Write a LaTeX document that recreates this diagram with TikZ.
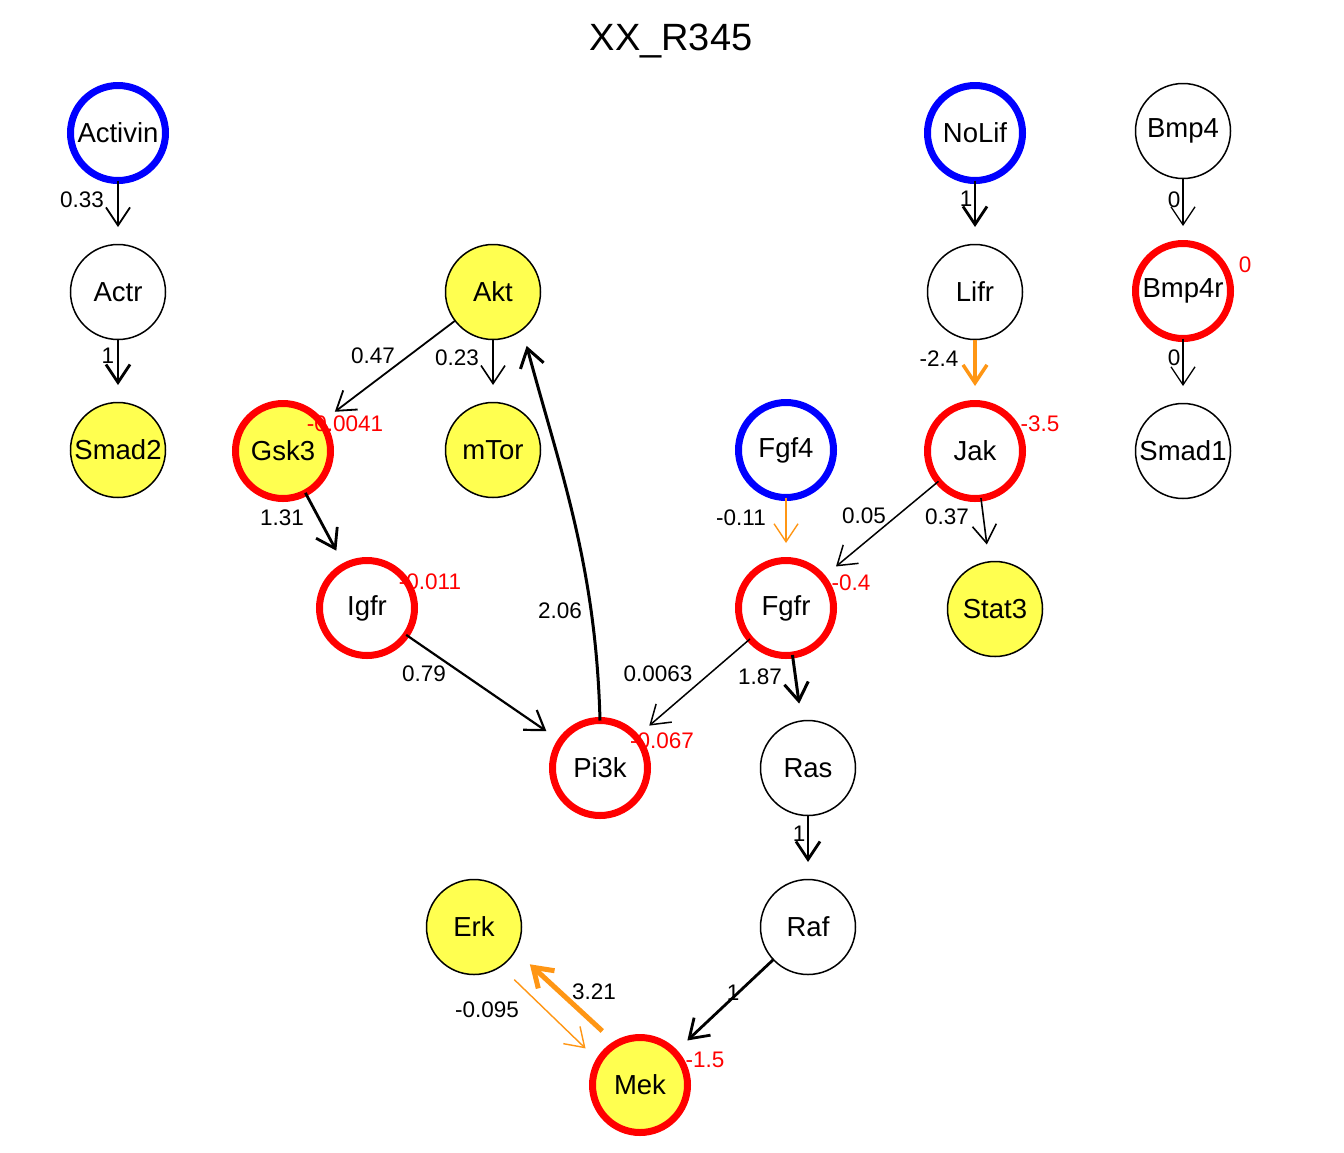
\documentclass[tikz,border=0pt]{standalone}
\usepackage{fontspec}
\setmainfont{Liberation Sans}
\usetikzlibrary{arrows.meta,calc}
\definecolor{nodeyellow}{RGB}{255,255,80}
\definecolor{edgeorange}{RGB}{255,150,20}
\definecolor{valred}{RGB}{255,0,0}
\definecolor{srcblue}{RGB}{0,0,255}
\begin{document}
\begin{tikzpicture}[x=1pt,y=-1pt,
  vnode/.style={circle,draw=black,line width=1.5pt,minimum size=95pt,inner sep=0pt,outer sep=0pt,font=\fontsize{27.5}{32}\selectfont},
  yel/.style={fill=nodeyellow},
  redring/.style={draw=valred,line width=7pt},
  bluering/.style={draw=srcblue,line width=7pt},
  edge/.style={draw=black,line width=1.6pt,-{Straight Barb[length=18pt,width=24pt]},shorten >=17.5pt},
  oedge/.style={edge,draw=edgeorange},
  elab/.style={font=\fontsize{22.5}{27}\selectfont,inner sep=0pt},
  vlab/.style={elab,text=valred},
  ttl/.style={font=\fontsize{38}{44}\selectfont,inner sep=0pt}
]
\useasboundingbox[fill=white] (0,0) rectangle (1344,1152);
\node[ttl] (title) at (671,41) {XX\_R345};
% nodes
\node[vnode,bluering] (activin) at (118,133) {Activin};
\node[vnode,bluering] (nolif) at (975,133) {NoLif};
\node[vnode] (bmp4) at (1183,131) {Bmp4};
\node[vnode] (actr) at (118,292) {Actr};
\node[vnode,yel] (akt) at (493,292) {Akt};
\node[vnode] (lifr) at (975,292) {Lifr};
\node[vnode,redring] (bmp4r) at (1183,291) {Bmp4r};
\node[vnode,yel] (smad2) at (118,450) {Smad2};
\node[vnode,yel,redring] (gsk3) at (283,451) {Gsk3};
\node[vnode,yel] (mtor) at (493,450) {mTor};
\node[vnode,bluering] (fgf4) at (786,450) {Fgf4};
\node[vnode,redring] (jak) at (975,451) {Jak};
\node[vnode] (smad1) at (1183,451) {Smad1};
\node[vnode,redring] (igfr) at (367,608) {Igfr};
\node[vnode,redring] (fgfr) at (786,608) {Fgfr};
\node[vnode,yel] (stat3) at (995,609) {Stat3};
\node[vnode,redring] (pi3k) at (600,768) {Pi3k};
\node[vnode] (ras) at (808,768) {Ras};
\node[vnode,yel] (erk) at (474,927) {Erk};
\node[vnode] (raf) at (808,927) {Raf};
\node[vnode,yel,redring] (mek) at (640,1085) {Mek};
% edges
\draw[edge,line width=1.8pt] (activin) -- (actr);
\draw[edge,line width=2.8pt] (actr) -- (smad2);
\draw[edge,line width=1.8pt] (akt) -- (gsk3);
\draw[edge,line width=1.6pt] (akt) -- (mtor);
\draw[edge,line width=2.8pt] (gsk3) -- (igfr);
\draw[edge,line width=2.2pt] (igfr) -- (pi3k);
\draw[edge,line width=3pt,shorten >=17pt] (pi3k.north) .. controls (596,565) and (560,470) .. (akt.-52);
\draw[oedge,line width=1.4pt] (fgf4) -- (fgfr);
\draw[edge,line width=1.5pt] (jak) -- (fgfr);
\draw[edge,line width=1.6pt] (jak) -- (stat3);
\draw[edge,line width=1.5pt] (fgfr) -- (pi3k);
\draw[edge,line width=3pt] (fgfr) -- (ras);
\draw[edge,line width=2.8pt] (ras) -- (raf);
\draw[edge,line width=2.8pt] (raf) -- (mek);
\draw[oedge,line width=5pt,shorten <=19pt,shorten >=20pt] (mek.120) -- (erk.-30);
\draw[oedge,line width=1.4pt,shorten <=19pt,shorten >=18.5pt] (erk.-56) -- (mek.150);
\draw[edge,line width=2.8pt] (nolif) -- (lifr);
\draw[oedge,line width=3.5pt] (lifr) -- (jak);
\draw[edge,line width=1.3pt] (bmp4) -- (bmp4r);
\draw[edge,line width=1.3pt] (bmp4r) -- (smad1);
% edge labels
\node[elab] (l1) at (82,200) {0.33};
\node[elab] (l2) at (108,356) {1};
\node[elab] (l3) at (373,356) {0.47};
\node[elab] (l4) at (457,358) {0.23};
\node[elab] (l5) at (282,518) {1.31};
\node[elab] (l6) at (424,674) {0.79};
\node[elab] (l7) at (560,611) {2.06};
\node[elab] (l8) at (658,674) {0.0063};
\node[elab] (l9) at (760,677) {1.87};
\node[elab] (l10) at (741,518) {-0.11};
\node[elab] (l11) at (864,516) {0.05};
\node[elab] (l12) at (947,517) {0.37};
\node[elab] (l13) at (939,359) {-2.4};
\node[elab] (l14) at (966,199) {1};
\node[elab] (l15) at (1174,200) {0};
\node[elab] (l16) at (1174,358) {0};
\node[elab] (l17) at (799,834) {1};
\node[elab] (l18) at (733,993) {1};
\node[elab] (l19) at (594,992) {3.21};
\node[elab] (l20) at (487,1010) {-0.095};
% value labels
\node[vlab] (v1) at (345,424) {-0.0041};
\node[vlab] (v2) at (430,582) {-0.011};
\node[vlab] (v3) at (662,741) {-0.067};
\node[vlab] (v4) at (851,583) {-0.4};
\node[vlab] (v5) at (1040,424) {-3.5};
\node[vlab] (v6) at (1245,265) {0};
\node[vlab] (v7) at (705,1060) {-1.5};
\end{tikzpicture}
\end{document}
